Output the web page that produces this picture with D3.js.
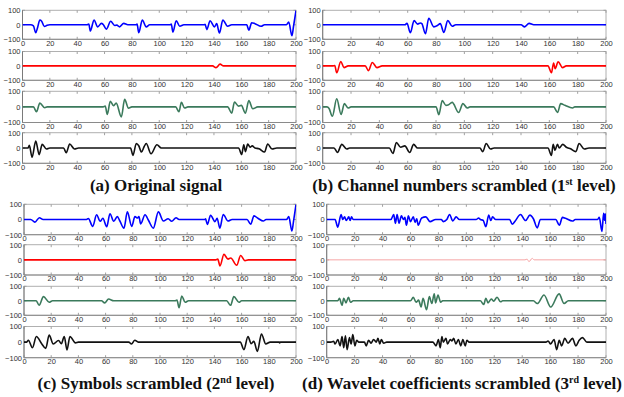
<!DOCTYPE html>
<html><head><meta charset="utf-8">
<script src="https://cdn.jsdelivr.net/npm/d3@7"></script>
<style>html,body{margin:0;padding:0;background:#fff;}svg{display:block;}</style>
</head><body>
<svg id="chart" width="624" height="397"></svg>
<script>
// ---------- data ----------
const xTickValues = [0,20,40,60,80,100,120,140,160,180,200];
const yTickValues = [-100,0,100];
const xDomain = [0,200];
const yDomain = [-100,100];

const aBlue = [[0,0],[6,0],[8,-8],[9.7,-55],[11,-20],[12.7,33],[14,25],[16,-12],[18,-3],[20,0],
[47,0],[48.5,5],[49.6,-43],[52.3,33],[55,-14],[57.7,10],[59,2],[61.3,-30],[64.5,24],[67.4,-5],[69,-2],[71,-14],[74,10],[77,0],[83,0],[83.8,5],[85,-55],[87.6,33],[90.5,-14],[93,0],
[108,0],[108.8,5],[110,-50],[112.4,28],[115,-10],[118,0],
[133,0],[133.5,4],[134.8,-33],[137.2,28],[140.4,-14],[142,8],[144,-57],[146.5,33],[150,-10],[153,0],
[164,0],[165.5,-38],[167.6,14],[170,8],[174.5,-10],[177,0],
[193,0],[194.7,19],[197,-76],[198.2,-10],[200,98]];
const aRed = [[0,0],[139,0],[141.5,-12],[144.5,12],[147,0],[200,0]];
const aGreen = [[0,0],[8,0],[10.2,-31],[12.7,24],[16.3,-5],[18,0],
[59,0],[60.5,5],[62,-48],[64.2,36],[66.5,8],[68.5,24],[72.3,-64],[74.7,48],[77.5,-8],[80,0],
[112,0],[114.4,-31],[116.2,29],[118.5,-7],[121,0],
[150,0],[153,-40],[155,31],[158,5],[160,10],[163,-40],[165.5,40],[168.4,-12],[172,0],[200,0]];
const aBlack = [[0,0],[4,0],[5,17],[7,-60],[9.7,45],[12.2,-43],[14.4,24],[17.5,-7],[20,0],
[30,0],[32,-31],[34.5,26],[38,-7],[41,0],
[79,0],[80.8,-48],[83.2,29],[85,15],[87,-26],[89,10],[90.5,29],[94,-38],[98.3,21],[101.5,0],
[158,0],[160.3,-43],[161.8,21],[163,-24],[164.7,26],[166.5,5],[168,14],[170,0],[173,-5],[177,-26],[179.3,26],[182.5,-7],[186,0],[200,0]];

const bBlue = [[0,0],[58,0],[59.5,10],[61.9,-55],[64.5,29],[67,5],[69,12],[70,8],[72.5,-62],[74.9,45],[78.4,-14],[81,-5],[83,8],[85.5,-52],[88.3,29],[91.4,-10],[94,0],[140,0],[142.6,-14],[145.7,10],[149,0],[200,0]];
const bRed = [[0,0],[7,0],[8.5,3],[9.9,-48],[12.8,31],[15,-12],[18,0],[30,0],[32.3,-33],[35,24],[38.3,-12],[42,0],[159,0],[161.5,-48],[163,20],[164.1,-19],[166.2,29],[169.3,-12],[172,0],[200,0]];
const bGreen = [[0,0],[3,0],[4.5,-10],[6.8,-60],[9.9,52],[13,-48],[15.3,21],[18,-7],[20,0],[80,0],[82,-50],[84.4,40],[87,10],[88.5,12],[91.4,29],[96,-36],[99,21],[102,-7],[104,0],[163,0],[165.8,-36],[168,21],[171,10],[176.4,-7],[178,0],[200,0]];
const bBlack = [[0,0],[8,0],[10.4,-29],[13.5,24],[17,-7],[19,0],[47,0],[49.6,-36],[52,36],[55,5],[58,14],[61.4,-29],[64.2,24],[67,0],[111,0],[113,-24],[115.4,29],[118.5,-7],[121,0],[159,0],[161.5,-48],[162.7,25],[164,-15],[165.7,24],[167,0],[169.5,24],[172,5],[175,-5],[178.7,-24],[181,29],[184.7,-7],[188,0],[200,0]];

const cBlue = [[0,0],[5,0],[8,-17],[11.3,12],[14,0],[46,0],[47.3,7],[50.5,-45],[53.4,31],[56,-12],[58,8],[60.8,-48],[63.2,38],[66,-12],[68.6,19],[70.5,-10],[73.5,-57],[76,50],[79.2,-45],[81.6,19],[83.5,10],[84.5,19],[85.8,-29],[89,31],[91.5,-5],[95.1,-57],[98.8,50],[102.5,-10],[106,5],[108.6,-12],[111.8,12],[114,0],[133,0],[133.5,4],[134.8,-33],[137.2,28],[140.4,-14],[142,8],[144,-57],[146.5,33],[150,-10],[153,0],[164,0],[166.7,-31],[169.1,24],[172,8],[176,-10],[178,0],[193,0],[194.7,19],[197,-76],[198.2,-10],[200,98]];
const cRed = [[0,0],[141,0],[142.5,5],[144.1,-40],[147,36],[150,5],[152,12],[156.4,-36],[159.3,29],[162.5,-5],[165,0],[200,0]];
const cGreen = [[0,0],[9,0],[11.1,-31],[14.3,29],[18.5,-10],[21,0],[57,0],[59.3,-14],[62.2,12],[66,0],[111,0],[112.5,5],[114,-48],[116,33],[118.5,-10],[121,0],[149,0],[151.9,-31],[154.3,29],[158,-10],[160,0],[200,0]];
const cBlack = [[0,0],[2,0],[3.2,12],[6.2,-36],[9.1,36],[13,-10],[16,-40],[18.5,45],[21.5,-12],[25.4,10],[27.5,-10],[29.6,36],[31.6,-50],[33.8,36],[37.8,-5],[40,0],[77,0],[79,-12],[81.5,12],[84,0],[159,0],[161.7,-48],[164.7,36],[167,-10],[169,5],[171.6,-60],[174.6,52],[177.8,-12],[181,0],[187.5,0],[188,-5],[188.5,0],[200,0]];

const dBlue = [[0,0],[6,0],[7.9,-50],[10.3,33],[11.5,0],[12.8,17],[14,-7],[15.8,17],[16.8,-7],[17.8,17],[19,0],[46,0],[48,33],[49.2,-26],[50.4,33],[51.8,-24],[53.5,24],[55,0],[56,14],[57.1,-38],[58.5,24],[60,-14],[62,17],[63.3,-19],[64.5,5],[65.5,-38],[68,10],[71,17],[74,-14],[78,0],[82,0],[83.5,-14],[86,0],[88,33],[90.3,-10],[92.7,17],[95,0],[107,0],[108.8,10],[110,0],[112,-5],[114,-48],[116,29],[117.5,-7],[118.8,17],[121,0],[131,0],[132.8,-31],[135,-10],[138.8,33],[142.4,-7],[145.5,29],[148,5],[150.8,-55],[153,0],[164,0],[166.6,-38],[168.8,14],[171,8],[176,-10],[178,0],[194,0],[195.2,14],[197.1,-79],[198.3,40],[199,-5],[199.5,38],[200,-30]];
const dRed = [[0,0],[142,0],[143.5,5],[144.8,-12],[147.2,10],[148.5,0],[200,0]];
const dGreen = [[0,0],[8,0],[9.1,17],[11,-31],[12.2,17],[13.8,-14],[15.6,24],[17,-10],[19,0],[60,0],[62,24],[64,-10],[65.8,5],[67.6,-43],[69,17],[71.5,-62],[73.5,29],[75.3,-19],[77,48],[78,-14],[79.7,40],[81.6,-10],[83,0],[110,0],[112.4,-26],[114,17],[115.5,-14],[117.9,12],[119.5,-2],[122,24],[124.5,-7],[126,0],[148,0],[150.8,-19],[155.6,40],[160.4,-43],[166.4,48],[170,-19],[173,0],[200,0]];
const dBlack = [[0,0],[3,0],[5,5],[6,-12],[8,17],[9.6,-24],[11,36],[12.2,-36],[13.4,40],[14.6,-48],[16.3,29],[17.5,-12],[18.7,48],[20.2,-24],[21.5,12],[23,0],[27,0],[28.3,-24],[30,12],[31.7,-7],[33.6,17],[35.5,0],[36.7,24],[38,-12],[39.1,17],[40.8,-7],[43,0],[76,0],[78.3,-24],[80,17],[81.3,-36],[82.5,36],[83.5,0],[85.4,24],[86.5,-12],[88.5,17],[89.7,7],[90.9,24],[92.5,-12],[94.3,17],[96,-24],[97.5,17],[99.2,-24],[100.4,12],[102,0],[157,0],[158.5,7],[160.4,-12],[162.8,17],[164.7,-48],[166.5,12],[168.2,-24],[170.5,24],[172.8,-7],[176,24],[178.4,-24],[180.8,12],[183.2,29],[186.3,0],[188,0],[200,0]];

const titleMain = ["(a) Original signal", "(b) Channel numbers scrambled (1", "(c) Symbols scrambled (2", "(d) Wavelet coefficients scrambled (3"];
const titleSup = ["", "st", "nd", "rd"];
const titleTail = ["", " level)", " level)", " level)"];

// ---------- layout ----------
const svg = d3.select("#chart");
const topRows = [[10.3,39.3],[51.5,80.3],[91.3,122.5],[132.7,163.3]];
const botRows = [[204.3,234.7],[244.7,275.0],[286.3,315.3],[326.5,357.7]];
const panels = [
  {x0:22.5, x1:296, rows:topRows, series:[aBlue,aRed,aGreen,aBlack], tx:156, ty:191},
  {x0:322.7, x1:606, rows:topRows, series:[bBlue,bRed,bGreen,bBlack], tx:464, ty:191},
  {x0:24, x1:296, rows:botRows, series:[cBlue,cRed,cGreen,cBlack], tx:156, ty:389},
  {x0:326.7, x1:606, rows:botRows, series:[dBlue,dRed,dGreen,dBlack], tx:462, ty:389}
];
const colors = ["#0000ff","#ff0000","#3b7a5c","#111111"];
const widths = [1.6,1.6,1.6,1.6];

let clipId = 0;
panels.forEach((p, pi) => {
  p.rows.forEach((r, ri) => {
    const x = d3.scaleLinear().domain(xDomain).range([p.x0, p.x1]);
    const y = d3.scaleLinear().domain(yDomain).range([r[1], r[0]]);
    const g = svg.append("g");
    g.append("rect").attr("x", p.x0).attr("y", r[0]).attr("width", p.x1 - p.x0).attr("height", r[1] - r[0])
      .attr("fill", "#fff").attr("stroke", "#b0b0b0").attr("stroke-width", 1);
    const tl = 2.5;
    xTickValues.forEach(v => {
      g.append("line").attr("x1", x(v)).attr("x2", x(v)).attr("y1", r[1]).attr("y2", r[1] - tl).attr("stroke", "#a0a0a0");
      g.append("line").attr("x1", x(v)).attr("x2", x(v)).attr("y1", r[0]).attr("y2", r[0] + tl).attr("stroke", "#a0a0a0");
    });
    yTickValues.forEach(v => {
      g.append("line").attr("x1", p.x0).attr("x2", p.x0 + tl).attr("y1", y(v)).attr("y2", y(v)).attr("stroke", "#a0a0a0");
      g.append("line").attr("x1", p.x1).attr("x2", p.x1 - tl).attr("y1", y(v)).attr("y2", y(v)).attr("stroke", "#a0a0a0");
    });
    g.append("line").attr("x1", p.x0).attr("x2", p.x0).attr("y1", r[0]).attr("y2", r[1]).attr("stroke", "#7a7a7a");
    g.append("line").attr("x1", p.x0).attr("x2", p.x1).attr("y1", r[1]).attr("y2", r[1]).attr("stroke", "#8a8a8a");
    const xAxis = d3.axisBottom(x).tickValues(xTickValues).tickSize(0).tickPadding(1).tickFormat(d3.format("d"));
    const xa = g.append("g").attr("transform", `translate(0,${r[1]})`).call(xAxis);
    xa.select(".domain").remove();
    xa.selectAll("text").attr("font-family", "Liberation Sans, Arial, sans-serif").attr("font-size", 7.5).attr("fill", "#333");
    const yAxis = d3.axisLeft(y).tickValues(yTickValues).tickSize(0).tickPadding(2).tickFormat(d3.format("d"));
    const ya = g.append("g").attr("transform", `translate(${p.x0},0)`).call(yAxis);
    ya.select(".domain").remove();
    ya.selectAll("text").attr("font-family", "Liberation Sans, Arial, sans-serif").attr("font-size", 7.5).attr("fill", "#333");
    const cid = "clip" + (clipId++);
    svg.append("clipPath").attr("id", cid).append("rect").attr("x", p.x0).attr("y", r[0] - 0.5).attr("width", p.x1 - p.x0).attr("height", r[1] - r[0] + 1);
    const line = d3.line().x(d => x(d[0])).y(d => y(d[1])).curve(d3.curveMonotoneX);
    let col = colors[ri], w = widths[ri];
    if (pi === 3 && ri === 1) { col = "#f6a5a5"; w = 1.0; }
    g.append("path").datum(p.series[ri]).attr("d", line).attr("fill", "none")
      .attr("stroke", col).attr("stroke-width", w).attr("stroke-linejoin", "round").attr("clip-path", `url(#${cid})`);
  });
  const t = svg.append("text").attr("x", p.tx).attr("y", p.ty).attr("text-anchor", "middle")
    .attr("font-family", "Liberation Serif, Times New Roman, serif").attr("font-weight", "bold").attr("font-size", 17).attr("fill", "#111");
  t.append("tspan").text(titleMain[pi]);
  if (titleSup[pi]) {
    t.append("tspan").attr("font-size", 10).attr("dy", -6.5).text(titleSup[pi]);
    t.append("tspan").attr("dy", 6.5).text(titleTail[pi]);
  }
});
</script>
</body></html>
